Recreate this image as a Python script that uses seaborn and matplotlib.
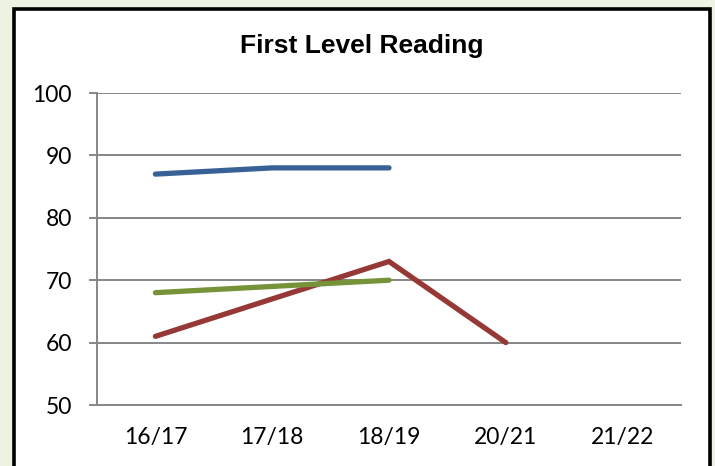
import numpy as np
import pandas as pd
import matplotlib.pyplot as plt
import seaborn as sns
from matplotlib.patches import Rectangle

# data
years = ["16/17", "17/18", "18/19", "20/21", "21/22"]
series_a = [87, 88, 88, np.nan, np.nan]   # blue
series_b = [61, 67, 73, 60, np.nan]       # red
series_c = [68, 69, 70, np.nan, np.nan]   # green

colors = ["#386296", "#963835", "#779339"]
names = ["Series 1", "Series 2", "Series 3"]

rows = []
for name, vals in zip(names, [series_a, series_b, series_c]):
    for i, v in enumerate(vals):
        rows.append({"pos": i, "year": years[i], "value": v, "series": name})
df = pd.DataFrame(rows).dropna()

sns.set_style("white")
plt.rcParams['font.family'] = ['Lato', 'DejaVu Sans']
plt.rcParams['text.color'] = 'black'
plt.rcParams['xtick.color'] = 'black'
plt.rcParams['ytick.color'] = 'black'

fig = plt.figure(figsize=(7.15, 4.66), dpi=100, facecolor="#eef2e3")
# white chart frame with black border
fig.patches.append(Rectangle((14 / 715, -0.02), 696 / 715, 1 - 9 / 466 + 0.02,
                             transform=fig.transFigure, facecolor="white",
                             edgecolor="black", linewidth=2.6, zorder=-5))

ax = fig.add_axes([97 / 715, 1 - 405 / 466, 584 / 715, 312 / 466])
ax.set_zorder(2)
ax.patch.set_alpha(0)
sns.lineplot(data=df, x="pos", y="value", hue="series", palette=colors,
             linewidth=3.8, legend=False, ax=ax, sort=False,
             solid_capstyle="round", solid_joinstyle="miter")

ax.set_xlim(-0.5, len(years) - 0.5)
ax.set_ylim(50, 100)
ax.set_yticks(np.arange(50, 101, 10))
ax.yaxis.grid(True, color="#868686", linewidth=1.4)
ax.set_axisbelow(True)

ax.set_xticks(range(len(years)))
ax.set_xticklabels(years)
ax.set_xticks(np.arange(-0.5, len(years)), minor=True)
ax.tick_params(axis="x", which="major", length=0, pad=16, labelsize=16.5)
ax.tick_params(axis="x", which="minor", length=6, width=1.4, color="#868686", direction="out")
ax.tick_params(axis="y", length=6, width=1.4, color="#868686", labelcolor="black",
               pad=12, labelsize=16.5, left=True)

for s in ["top", "right"]:
    ax.spines[s].set_visible(False)
for s in ["left", "bottom"]:
    ax.spines[s].set_color("#868686")
    ax.spines[s].set_linewidth(1.4)

ax.set_xlabel("")
ax.set_ylabel("")

fig.text(362 / 715, 1 - 46 / 466, "First Level Reading", ha="center", va="center",
         fontsize=19, fontweight="bold", color="black",
         family=["Liberation Sans", "DejaVu Sans"])

fig.savefig("out.png", dpi=100, facecolor=fig.get_facecolor())
